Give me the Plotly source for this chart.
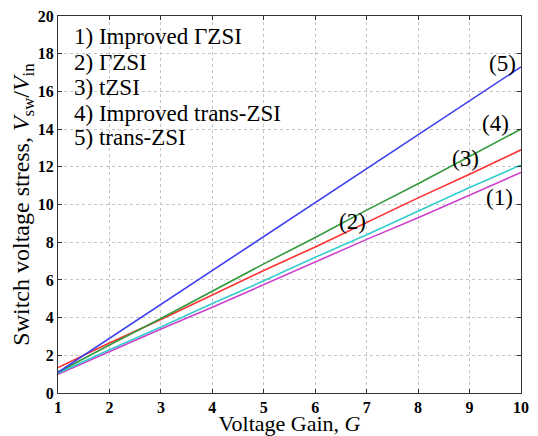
import plotly.graph_objects as go

gain = [1, 2, 3, 4, 5, 6, 7, 8, 9, 10]
improved_gzsi = [1.0, 2.2, 3.4, 4.55, 5.75, 6.95, 8.15, 9.3, 10.5, 11.7]
gzsi = [1.05, 2.3, 3.5, 4.75, 5.95, 7.2, 8.4, 9.65, 10.9, 12.1]
tzsi = [1.35, 2.65, 3.9, 5.2, 6.5, 7.75, 9.05, 10.35, 11.6, 12.9]
improved_trans_zsi = [1.1, 2.55, 3.95, 5.4, 6.85, 8.25, 9.7, 11.1, 12.55, 14.0]
trans_zsi = [1.1, 2.9, 4.7, 6.5, 8.3, 10.1, 11.9, 13.7, 15.5, 17.3]

x_ticks = [1, 2, 3, 4, 5, 6, 7, 8, 9, 10]
y_ticks = [0, 2, 4, 6, 8, 10, 12, 14, 16, 18, 20]

legend_lines = ["1) Improved \u0393ZSI", "2) \u0393ZSI", "3) tZSI",
                "4) Improved trans-ZSI", "5) trans-ZSI"]
legend_y = [18.9, 17.55, 16.2, 14.85, 13.55]

curve_labels = ["(1)", "(2)", "(3)", "(4)", "(5)"]
label_x = [9.58, 6.73, 8.92, 9.5, 9.64]
label_y = [10.35, 9.08, 12.45, 14.3, 17.5]

series = [
    (improved_gzsi, "#cc40cc"),
    (gzsi, "#33cccc"),
    (tzsi, "#ff3030"),
    (improved_trans_zsi, "#33993a"),
    (trans_zsi, "#4040f0"),
]

font = "Liberation Serif"

fig = go.Figure()
for vals, col in series:
    fig.add_trace(go.Scatter(x=gain, y=vals, mode="lines",
                             line=dict(color=col, width=1.6), showlegend=False))

for t, yv in zip(legend_lines, legend_y):
    fig.add_annotation(x=1.27, y=yv, text=t, showarrow=False, xanchor="left",
                       yanchor="middle", font=dict(family=font, size=23, color="black"))

for t, xv, yv in zip(curve_labels, label_x, label_y):
    fig.add_annotation(x=xv, y=yv, text=t, showarrow=False,
                       font=dict(family=font, size=23, color="black"))

axis_common = dict(showline=True, linecolor="#333", linewidth=1, mirror="allticks",
                   ticks="inside", ticklen=4, tickcolor="#333",
                   showgrid=True, gridcolor="#c4c4c4", griddash="dot", gridwidth=1,
                   zeroline=False, ticklabeloverflow="allow",
                   tickfont=dict(family=font, size=16, color="black"))

fig.update_xaxes(range=[1, 10], tickvals=x_ticks,
                 ticktext=["<b>%d</b>" % v for v in x_ticks],
                 title=dict(text="Voltage Gain, <i>G</i>", standoff=3,
                            font=dict(family=font, size=22, color="black")),
                 **axis_common)
fig.update_yaxes(range=[0, 20], tickvals=y_ticks,
                 ticktext=["<b>%d</b>" % v for v in y_ticks],
                 title=dict(text="Switch voltage stress, <i>V</i><sub>sw</sub>/<i>V</i><sub>in</sub>",
                            standoff=2, font=dict(family=font, size=24, color="black")),
                 **axis_common)

fig.update_layout(width=530, height=428, margin=dict(l=50, r=17, t=8, b=43, autoexpand=False),
                  plot_bgcolor="white", paper_bgcolor="white")

fig.write_html("out.html")
